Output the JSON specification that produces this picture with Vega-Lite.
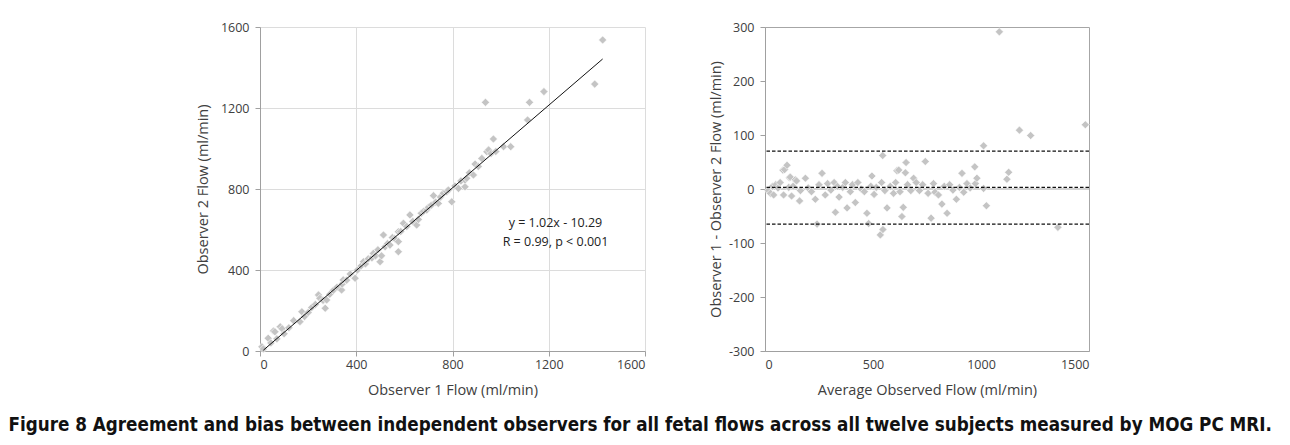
{
  "$schema": "https://vega.github.io/schema/vega-lite/v6.json",
  "padding": {"left": 8, "top": 20, "right": 5, "bottom": 5},
  "background": "white",
  "title": {
    "text": "Figure 8 Agreement and bias between independent observers for all fetal flows across all twelve subjects measured by MOG PC MRI.",
    "orient": "bottom", "anchor": "start", "dx": -187, "offset": 18,
    "font": "DejaVu Sans Condensed", "fontSize": 18.7, "fontWeight": "bold", "color": "#111111"
  },
  "config": {
    "view": {"stroke": null},
    "font": "Open Sans",
    "axis": {
      "labelFont": "Open Sans", "titleFont": "Open Sans", "labelFontSize": 12.5, "titleFontSize": 14.5,
      "labelColor": "#404040", "titleColor": "#404040", "titleFontWeight": "normal",
      "labelExpr": "datum.value + ''",
      "domainColor": "#a0a0a0", "tickColor": "#a0a0a0", "tickSize": 5, "gridColor": "#dcdcdc"
    }
  },
  "hconcat": [
    {
      "width": 385, "height": 324,
      "layer": [
        {
          "data": {"values": [
            {"obs1": 8, "obs2": 21}, {"obs1": 14, "obs2": 10}, {"obs1": 34, "obs2": 63}, {"obs1": 45, "obs2": 40},
            {"obs1": 56, "obs2": 99}, {"obs1": 62, "obs2": 95}, {"obs1": 70, "obs2": 60}, {"obs1": 84, "obs2": 120},
            {"obs1": 92, "obs2": 110}, {"obs1": 100, "obs2": 85}, {"obs1": 120, "obs2": 115}, {"obs1": 140, "obs2": 150},
            {"obs1": 166, "obs2": 145}, {"obs1": 174, "obs2": 194}, {"obs1": 185, "obs2": 170}, {"obs1": 200, "obs2": 190},
            {"obs1": 215, "obs2": 215}, {"obs1": 230, "obs2": 230}, {"obs1": 243, "obs2": 277}, {"obs1": 249, "obs2": 260},
            {"obs1": 262, "obs2": 250}, {"obs1": 271, "obs2": 211}, {"obs1": 277, "obs2": 252}, {"obs1": 290, "obs2": 280},
            {"obs1": 305, "obs2": 300}, {"obs1": 320, "obs2": 315}, {"obs1": 339, "obs2": 301}, {"obs1": 341, "obs2": 330},
            {"obs1": 346, "obs2": 351}, {"obs1": 360, "obs2": 350}, {"obs1": 375, "obs2": 380}, {"obs1": 395, "obs2": 359},
            {"obs1": 405, "obs2": 400}, {"obs1": 420, "obs2": 420}, {"obs1": 430, "obs2": 441}, {"obs1": 438, "obs2": 430},
            {"obs1": 450, "obs2": 455}, {"obs1": 465, "obs2": 460}, {"obs1": 471, "obs2": 482}, {"obs1": 480, "obs2": 470},
            {"obs1": 490, "obs2": 500}, {"obs1": 499, "obs2": 441}, {"obs1": 505, "obs2": 470}, {"obs1": 513, "obs2": 573},
            {"obs1": 520, "obs2": 515}, {"obs1": 530, "obs2": 530}, {"obs1": 540, "obs2": 523}, {"obs1": 550, "obs2": 560},
            {"obs1": 560, "obs2": 555}, {"obs1": 575, "obs2": 589}, {"obs1": 575, "obs2": 540}, {"obs1": 575, "obs2": 490},
            {"obs1": 585, "obs2": 590}, {"obs1": 596, "obs2": 631}, {"obs1": 610, "obs2": 615}, {"obs1": 623, "obs2": 672},
            {"obs1": 635, "obs2": 640}, {"obs1": 651, "obs2": 622}, {"obs1": 658, "obs2": 650}, {"obs1": 670, "obs2": 680},
            {"obs1": 680, "obs2": 690}, {"obs1": 693, "obs2": 696}, {"obs1": 700, "obs2": 710}, {"obs1": 712, "obs2": 720},
            {"obs1": 721, "obs2": 767}, {"obs1": 730, "obs2": 735}, {"obs1": 741, "obs2": 729}, {"obs1": 750, "obs2": 760},
            {"obs1": 762, "obs2": 779}, {"obs1": 776, "obs2": 787}, {"obs1": 783, "obs2": 795}, {"obs1": 797, "obs2": 737},
            {"obs1": 810, "obs2": 815}, {"obs1": 825, "obs2": 803}, {"obs1": 835, "obs2": 840}, {"obs1": 852, "obs2": 811},
            {"obs1": 852, "obs2": 844}, {"obs1": 859, "obs2": 853}, {"obs1": 870, "obs2": 880}, {"obs1": 887, "obs2": 869},
            {"obs1": 894, "obs2": 923}, {"obs1": 907, "obs2": 911}, {"obs1": 922, "obs2": 951}, {"obs1": 937, "obs2": 1228},
            {"obs1": 943, "obs2": 984}, {"obs1": 950, "obs2": 993}, {"obs1": 960, "obs2": 975}, {"obs1": 970, "obs2": 1047},
            {"obs1": 980, "obs2": 985}, {"obs1": 1012, "obs2": 1009}, {"obs1": 1042, "obs2": 1009}, {"obs1": 1112, "obs2": 1141},
            {"obs1": 1120, "obs2": 1228}, {"obs1": 1180, "obs2": 1281}, {"obs1": 1391, "obs2": 1318}, {"obs1": 1424, "obs2": 1536}
          ]},
          "mark": {"type": "point", "shape": "diamond", "filled": true, "size": 66, "color": "#c4c4c4", "stroke": "white", "strokeWidth": 0.6, "opacity": 1},
          "encoding": {
            "x": {"field": "obs1", "type": "quantitative", "scale": {"domain": [0, 1600], "nice": false},
                  "axis": {"values": [0, 400, 800, 1200, 1600], "grid": true, "title": "Observer 1 Flow (ml/min)", "labelPadding": 2, "titlePadding": 13}},
            "y": {"field": "obs2", "type": "quantitative", "scale": {"domain": [0, 1600], "nice": false},
                  "axis": {"values": [0, 400, 800, 1200, 1600], "grid": true, "title": "Observer 2 Flow (ml/min)", "labelPadding": 6, "titlePadding": 10}}
          }
        },
        {
          "data": {"values": [{}]},
          "mark": {"type": "rule", "color": "#111111", "strokeWidth": 1},
          "encoding": {"x": {"datum": 14}, "y": {"datum": 4}, "x2": {"datum": 1424}, "y2": {"datum": 1442}}
        },
        {
          "data": {"values": [{}]},
          "mark": {"type": "text", "font": "Open Sans", "fontSize": 12.5, "lineHeight": 19, "color": "#222222", "align": "center", "baseline": "middle"},
          "encoding": {"x": {"datum": 1228}, "y": {"datum": 632}, "text": {"value": ["y = 1.02x - 10.29", "R = 0.99, p < 0.001"]}}
        }
      ]
    },
    {
      "width": 324, "height": 324,
      "view": {"stroke": "#a6a6a6"},
      "layer": [
        {
          "data": {"values": [{}]},
          "mark": {"type": "rule", "color": "#a6a6a6", "strokeWidth": 1},
          "encoding": {"y": {"datum": 0}}
        },
        {
          "data": {"values": [
            {"avg": 15, "diff": -3}, {"avg": 25, "diff": -8}, {"avg": 35, "diff": 5}, {"avg": 40, "diff": -11}, {"avg": 50, "diff": 8},
            {"avg": 60, "diff": 2}, {"avg": 70, "diff": 12}, {"avg": 83, "diff": 35}, {"avg": 86, "diff": -11}, {"avg": 91, "diff": 36},
            {"avg": 102, "diff": 44}, {"avg": 110, "diff": 3}, {"avg": 113, "diff": 21}, {"avg": 117, "diff": 22}, {"avg": 123, "diff": -13},
            {"avg": 130, "diff": 5}, {"avg": 140, "diff": 17}, {"avg": 146, "diff": 15}, {"avg": 160, "diff": -22}, {"avg": 164, "diff": -3},
            {"avg": 187, "diff": 20}, {"avg": 200, "diff": 2}, {"avg": 215, "diff": -5}, {"avg": 233, "diff": -19}, {"avg": 241, "diff": -65},
            {"avg": 250, "diff": 8}, {"avg": 264, "diff": 29}, {"avg": 279, "diff": -11}, {"avg": 290, "diff": 10}, {"avg": 305, "diff": -2},
            {"avg": 320, "diff": 12}, {"avg": 326, "diff": -43}, {"avg": 335, "diff": 5}, {"avg": 343, "diff": -15}, {"avg": 360, "diff": 3},
            {"avg": 372, "diff": 12}, {"avg": 380, "diff": -35}, {"avg": 395, "diff": -5}, {"avg": 405, "diff": 8}, {"avg": 418, "diff": -25},
            {"avg": 430, "diff": 12}, {"avg": 445, "diff": 0}, {"avg": 460, "diff": -5}, {"avg": 472, "diff": -45}, {"avg": 480, "diff": -64},
            {"avg": 490, "diff": 5}, {"avg": 495, "diff": 24}, {"avg": 505, "diff": -10}, {"avg": 515, "diff": 3}, {"avg": 534, "diff": -85},
            {"avg": 540, "diff": 12}, {"avg": 546, "diff": -75}, {"avg": 545, "diff": 62}, {"avg": 555, "diff": -3}, {"avg": 565, "diff": -35},
            {"avg": 580, "diff": 5}, {"avg": 595, "diff": -8}, {"avg": 605, "diff": 12}, {"avg": 611, "diff": 34}, {"avg": 619, "diff": 35},
            {"avg": 625, "diff": -5}, {"avg": 634, "diff": -51}, {"avg": 640, "diff": -34}, {"avg": 650, "diff": 30}, {"avg": 653, "diff": 49},
            {"avg": 660, "diff": 8}, {"avg": 675, "diff": -3}, {"avg": 688, "diff": 20}, {"avg": 700, "diff": 12}, {"avg": 715, "diff": -3},
            {"avg": 730, "diff": 8}, {"avg": 742, "diff": 51}, {"avg": 755, "diff": -8}, {"avg": 769, "diff": -54}, {"avg": 780, "diff": 10},
            {"avg": 787, "diff": -6}, {"avg": 803, "diff": -11}, {"avg": 819, "diff": -28}, {"avg": 830, "diff": 5}, {"avg": 843, "diff": -45},
            {"avg": 855, "diff": 8}, {"avg": 870, "diff": -2}, {"avg": 886, "diff": -19}, {"avg": 900, "diff": 3}, {"avg": 912, "diff": 29},
            {"avg": 920, "diff": -6}, {"avg": 935, "diff": 10}, {"avg": 950, "diff": 2}, {"avg": 971, "diff": 41}, {"avg": 974, "diff": 10},
            {"avg": 981, "diff": 20}, {"avg": 1012, "diff": 80}, {"avg": 1012, "diff": 1}, {"avg": 1025, "diff": -31}, {"avg": 1085, "diff": 291},
            {"avg": 1120, "diff": 18}, {"avg": 1128, "diff": 31}, {"avg": 1178, "diff": 109}, {"avg": 1230, "diff": 99}, {"avg": 1356, "diff": -71},
            {"avg": 1483, "diff": 119}
          ]},
          "mark": {"type": "point", "shape": "diamond", "filled": true, "size": 66, "color": "#c4c4c4", "stroke": "white", "strokeWidth": 0.6, "opacity": 1},
          "encoding": {
            "x": {"field": "avg", "type": "quantitative", "scale": {"domain": [0, 1500], "nice": false},
                  "axis": {"values": [0, 500, 1000, 1500], "grid": false, "ticks": false, "labelPadding": 7, "titlePadding": 13, "title": "Average Observed Flow (ml/min)"}},
            "y": {"field": "diff", "type": "quantitative", "scale": {"domain": [-300, 300], "nice": false},
                  "axis": {"values": [-300, -200, -100, 0, 100, 200, 300], "grid": false, "labelPadding": 6, "titlePadding": 5, "title": "Observer 1 - Observer 2  Flow (ml/min)"}}
          }
        },
        {
          "data": {"values": [{"line": "upper limit", "value": 70}, {"line": "bias", "value": 3}, {"line": "lower limit", "value": -65}]},
          "mark": {"type": "rule", "color": "#111111", "strokeWidth": 1.3, "strokeDash": [3.5, 2]},
          "encoding": {"y": {"field": "value", "type": "quantitative"}}
        }
      ]
    }
  ],
  "spacing": 120,
  "bounds": "flush"
}
